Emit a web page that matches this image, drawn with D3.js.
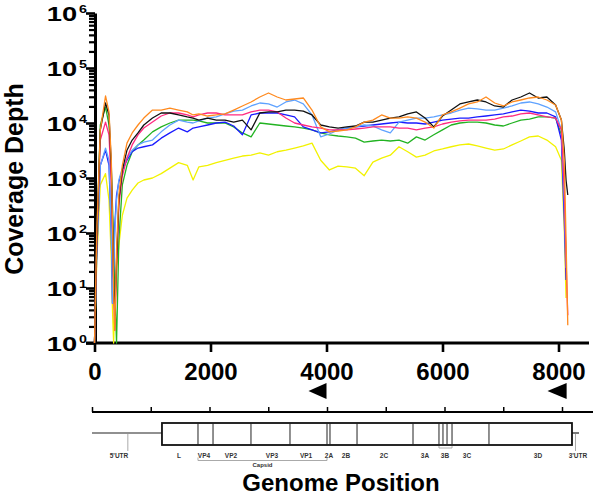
<!DOCTYPE html>
<html>
<head>
<meta charset="utf-8">
<script src="https://cdn.jsdelivr.net/npm/d3@7"></script>
<style>
    body { margin: 0; background: #fff; }
    svg { display: block; font-family: 'Liberation Sans', Arial, sans-serif; }
</style>
</head>
<body>
<div id="chart"></div>
<script>

const positions = [0, 40, 100, 190, 250, 290, 310, 330, 350, 380, 420, 480, 560, 650, 750, 850,
    1000, 1150, 1300, 1450, 1600, 1700, 1800, 1950, 2100, 2250, 2400, 2550, 2700, 2850, 3000,
    3150, 3300, 3450, 3600, 3750, 3900, 4050, 4200, 4350, 4500, 4650, 4800, 4950, 5100, 5250,
    5400, 5550, 5700, 5850, 6000, 6150, 6300, 6450, 6600, 6750, 6900, 7050, 7200, 7350, 7500,
    7650, 7800, 7950, 8050, 8100, 8130, 8160];

// coverage depth per sample
const yellowDepth = [1, 32, 750, 1200, 400, 32, 4, 1, 6, 21, 60, 210, 430, 600, 810, 920,
    1000, 1200, 1510, 1900, 1700, 920, 1600, 1700, 1900, 2100, 2300, 2510, 2600, 2850, 2600,
    3000, 3200, 3500, 3820, 4300, 2100, 1400, 1650, 1600, 1510, 1100, 1950, 2300, 2600, 3700,
    3000, 2400, 2600, 3100, 3370, 3700, 4000, 4150, 3820, 3500, 3200, 3370, 4000, 4710, 5600,
    5800, 4900, 3700, 2100, 110, 6.6, null];

const greenDepth = [1, 75, 9200, 19500, 9200, 1400, 320, 75, 9.2, 1, 75, 750, 1700, 3000, 4000, 4900,
    6900, 8500, 10000, 11300, 11300, 11300, 10900, 10000, 10000, 10000, 8500, 6600, 5600, 10000, 9590,
    9200, 8820, 8500, 8100, 7500, 6600, 6100, 5800, 5600, 5300, 4500, 4710, 4900, 4710, 4900,
    4300, 5600, 4900, 6100, 7500, 9200, 10000, 10400, 10400, 10000, 9200, 8820, 10000, 11300, 11800,
    12900, 12900, 12300, 6100, 400, 32, null];

const blueDepth = [1, 49, 1700, 3200, 1700, 92, 5.3, 26, 140, 490, 850, 1400, 2100, 3000, 3500, 3700,
    4000, 5300, 6600, 8100, 6900, 8100, 8500, 9200, 10000, 10400, 8820, 6100, 14000, 15200, 15200,
    15200, 14000, 12900, 8500, 7500, 6600, 6900, 7500, 8100, 8500, 8820, 9200, 9590, 10000, 10400,
    10000, 10000, 9590, 10400, 11300, 11800, 12300, 12300, 12900, 13400, 14000, 14600, 15900, 17200, 16500,
    15200, 15200, 12900, 4900, 170, 14, null];

const lightBlueDepth = [1, 49, 1700, 3500, 2100, 110, 5.3, 21, 110, 400, 920, 1510, 2300, 3200, 4000, 4500,
    4900, 6900, 9200, 11300, 10400, 10000, 10900, 12300, 12900, 14600, 16500, 17200, 20400, 23100, 22200,
    19500, 24100, 26200, 22200, 14000, 5600, 6310, 7500, 8100, 8500, 9200, 8820, 7500, 6600, 10400,
    11300, 12300, 12300, 12900, 14000, 15200, 17200, 18700, 18000, 17200, 17200, 18700, 20400, 23100, 24100,
    22200, 19500, 15900, 7500, 400, 23, null];

const pinkDepth = [1, 75, 4900, 10400, 6100, 750, 110, 9.2, 1.7, 21, 320, 1100, 2300, 4000, 6100, 8100,
    10400, 13400, 15200, 15200, 14000, 12900, 14000, 15200, 15200, 14000, 14000, 14000, 15900, 17200, 17200,
    15900, 12300, 10000, 9200, 8500, 8100, 7500, 7500, 7500, 7780, 8100, 8500, 8500, 8500, 8100,
    8100, 7500, 8100, 8500, 9590, 10400, 10900, 11300, 11300, 11300, 11800, 12900, 13400, 14600, 15200,
    14000, 12900, 12300, 7500, 600, 32, 3.2];

const blackDepth = [1, 75, 7500, 23100, 14000, 1700, 170, 14, 3.2, 32, 400, 1400, 3200, 4900, 6600, 9200,
    12300, 15200, 15200, 14000, 12900, 12300, 11300, 12300, 11300, 11300, 10400, 11300, 7500, 15200, 15900,
    15900, 17200, 17200, 16500, 14000, 9200, 8500, 8100, 8500, 8820, 10400, 10400, 11300, 12300, 12900,
    14600, 15900, 12300, 8500, 13400, 17200, 22200, 24100, 26200, 24100, 20400, 19500, 26200, 29700, 35100,
    28500, 29700, 21200, 11300, 3200, 920, 490];

const orangeDepth = [1, 110, 7500, 31000, 15900, 2100, 170, 9.2, 1.7, 49, 490, 1700, 4300, 6600, 9200, 12300,
    17200, 17200, 18700, 17200, 15900, 14000, 14600, 13400, 14000, 14600, 17200, 20400, 24100, 29700, 35100,
    29700, 26200, 27300, 28500, 17200, 8500, 6900, 7150, 7500, 8500, 10400, 11300, 14000, 12300, 12300,
    12900, 12300, 10400, 8100, 14000, 15900, 18700, 22200, 24100, 29700, 23100, 20400, 24100, 26200, 28500,
    29700, 26200, 21200, 11300, 2100, 75, 2.1];

const seriesNames = ['yellow', 'green', 'blue', 'lightblue', 'pink', 'black', 'orange'];
const seriesColors = ['#f2f200', '#22b322', '#1a1aff', '#5fa2ff', '#ff2a80', '#111111', '#ff8a1f'];
const seriesValues = [yellowDepth, greenDepth, blueDepth, lightBlueDepth, pinkDepth, blackDepth, orangeDepth];

const yDecades = [1, 10, 100, 1000, 10000, 100000, 1000000];
const xTicks = [0, 2000, 4000, 6000, 8000];

// primer arrows (start, end) in genome position
const primerStarts = [3690, 7810];
const primerEnds = [4000, 8140];

// genome map
const rulerTicks = [0, 1000, 2000, 3000, 4000, 5000, 6000, 7000, 8000];
const boxStart = 1191, boxEnd = 8170, lineEnd = 8290;
const dividers = [1804, 2060, 2706, 3370, 4000, 4051, 4511, 5464, 5906, 5974, 6043, 6128, 6757];
const regionLabels = ["5'UTR", 'L', 'VP4', 'VP2', 'VP3', 'VP1', '2A', '2B', '2C', '3A', '3B', '3C', '3D', "3'UTR"];
const regionLabelPos = [460, 1481, 1906, 2366, 3064, 3643, 4034, 4323, 4970, 5668, 6009, 6383, 7591, 8272];
const utrLeaders = [610, 8230];
const capsidRange = [1804, 4000];
const threeBRange = [5906, 6128];

const width = 600, height = 501;

const svg = d3.select('#chart').append('svg')
    .attr('width', width)
    .attr('height', height);

// scales
const xScale = d3.scaleLinear().domain([0, 8500]).range([94.5, 587.5]);
const yScale = d3.scaleLog().domain([1, 1e6]).range([343, 13]);

// minor y ticks
let minorTicks = [];
yDecades.slice(0, -1).forEach(d => {
    for (let k = 2; k <= 9; k++) minorTicks.push(d * k);
});

svg.append('g')
    .attr('class', 'y-minor')
    .attr('transform', 'translate(95,0)')
    .call(d3.axisLeft(yScale).tickValues(minorTicks).tickSize(6).tickFormat(''))
    .call(g => g.select('.domain').remove())
    .selectAll('line')
    .attr('stroke', '#000')
    .attr('stroke-width', 2.2);

svg.append('g')
    .attr('class', 'y-axis')
    .attr('transform', 'translate(95,0)')
    .call(d3.axisLeft(yScale).tickValues(yDecades).tickSize(9).tickSizeOuter(0).tickFormat(''))
    .call(g => g.select('.domain').attr('stroke-width', 3))
    .selectAll('line')
    .attr('stroke', '#000')
    .attr('stroke-width', 2.6);

// y tick labels as 10 with superscript (stretched a bit wide like the original)
const yLabels = svg.append('g').attr('class', 'y-labels');
yDecades.forEach((d, i) => {
    const t = yLabels.append('text')
        .attr('transform', `translate(87,${yScale(d) + 7.5}) scale(1.3,1)`)
        .attr('text-anchor', 'end')
        .style('font-size', '21px')
        .style('font-weight', 'bold');
    t.append('tspan').text('10');
    t.append('tspan')
        .attr('dy', -8)
        .attr('dx', 1.5)
        .style('font-size', '11px')
        .text(i);
});

// x axis
svg.append('g')
    .attr('class', 'x-axis')
    .attr('transform', 'translate(0,343)')
    .call(d3.axisBottom(xScale).tickValues(xTicks).tickSize(9).tickSizeOuter(0).tickFormat(d3.format('')))
    .call(g => g.select('.domain')
        .attr('d', 'M86,0H589')
        .attr('stroke-width', 3))
    .call(g => g.selectAll('line').attr('stroke-width', 2.6))
    .selectAll('text')
    .attr('y', 20)
    .attr('dy', '0.71em')
    .style('font-size', '24px')
    .style('font-weight', 'bold')
    .style('font-family', "'Liberation Sans', Arial, sans-serif")
    .attr('fill', '#000');

// coverage lines
const line = d3.line()
    .defined(d => d[1] != null)
    .x(d => xScale(d[0]))
    .y(d => yScale(d[1]));

svg.append('g')
    .attr('class', 'lines')
    .selectAll('path')
    .data(seriesValues)
    .enter()
    .append('path')
    .attr('fill', 'none')
    .attr('stroke', (d, i) => seriesColors[i])
    .attr('stroke-width', 1.3)
    .attr('stroke-linejoin', 'round')
    .attr('d', d => line(d.map((v, j) => [positions[j], v])));

// y axis title
svg.append('text')
    .attr('transform', 'translate(23,179) rotate(-90)')
    .attr('text-anchor', 'middle')
    .style('font-size', '25px')
    .style('font-weight', 'bold')
    .text('Coverage Depth');

// primer arrows
svg.append('g')
    .selectAll('path')
    .data(primerStarts)
    .enter()
    .append('path')
    .attr('fill', '#000')
    .attr('d', (d, i) => {
        let x0 = xScale(d), x1 = xScale(primerEnds[i]);
        return `M${x0},391L${x1},383L${x1},399Z`;
    });

// genome map
const gx = d3.scaleLinear().domain([0, 8000]).range([92, 562]);
const map = svg.append('g').attr('class', 'genome-map');

map.append('g')
    .attr('transform', 'translate(0,412)')
    .call(d3.axisTop(gx).tickValues(rulerTicks).tickSize(5).tickSizeOuter(0).tickFormat(''))
    .call(g => g.select('.domain').attr('d', 'M92,0H593').attr('stroke-width', 1.8))
    .selectAll('line')
    .attr('stroke-width', 1.5);

map.append('line')
    .attr('x1', gx(0)).attr('x2', gx(boxStart))
    .attr('y1', 433).attr('y2', 433)
    .attr('stroke', '#222').attr('stroke-width', 1.2);

map.append('line')
    .attr('x1', gx(boxEnd)).attr('x2', gx(lineEnd))
    .attr('y1', 433).attr('y2', 433)
    .attr('stroke', '#222').attr('stroke-width', 1.2);

map.append('rect')
    .attr('x', gx(boxStart))
    .attr('y', 423)
    .attr('width', gx(boxEnd) - gx(boxStart))
    .attr('height', 22)
    .attr('fill', '#fff')
    .attr('stroke', '#111')
    .attr('stroke-width', 1.8);

map.selectAll('.divider')
    .data(dividers)
    .enter()
    .append('line')
    .attr('class', 'divider')
    .attr('x1', d => gx(d)).attr('x2', d => gx(d))
    .attr('y1', 423).attr('y2', 445)
    .attr('stroke', '#222')
    .attr('stroke-width', 1);

map.selectAll('.leader')
    .data(utrLeaders)
    .enter()
    .append('line')
    .attr('x1', d => gx(d)).attr('x2', d => gx(d))
    .attr('y1', 434).attr('y2', 451)
    .attr('stroke', '#aaa')
    .attr('stroke-width', 1);

map.selectAll('.region-label')
    .data(regionLabels)
    .enter()
    .append('text')
    .attr('x', (d, i) => gx(regionLabelPos[i]))
    .attr('y', 457.5)
    .attr('text-anchor', 'middle')
    .style('font-size', '6.5px')
    .style('font-weight', 'bold')
    .attr('fill', '#333')
    .text(d => d);

// capsid bracket
map.append('path')
    .attr('d', `M${gx(capsidRange[0])},457.5V460.5H${gx(capsidRange[1])}V457.5`)
    .attr('fill', 'none')
    .attr('stroke', '#aaa')
    .attr('stroke-width', 1);

map.append('text')
    .attr('x', (gx(capsidRange[0]) + gx(capsidRange[1])) / 2)
    .attr('y', 467)
    .attr('text-anchor', 'middle')
    .style('font-size', '6px')
    .style('font-weight', 'bold')
    .attr('fill', '#333')
    .text('Capsid');

// 3B bracket
map.append('path')
    .attr('d', `M${gx(threeBRange[0])},446V448H${gx(threeBRange[1])}V446`)
    .attr('fill', 'none')
    .attr('stroke', '#999')
    .attr('stroke-width', 0.8);

// x axis title
svg.append('text')
    .attr('x', 341)
    .attr('y', 491)
    .attr('text-anchor', 'middle')
    .style('font-size', '24px')
    .style('font-weight', 'bold')
    .text('Genome Position');

</script>
</body>
</html>
